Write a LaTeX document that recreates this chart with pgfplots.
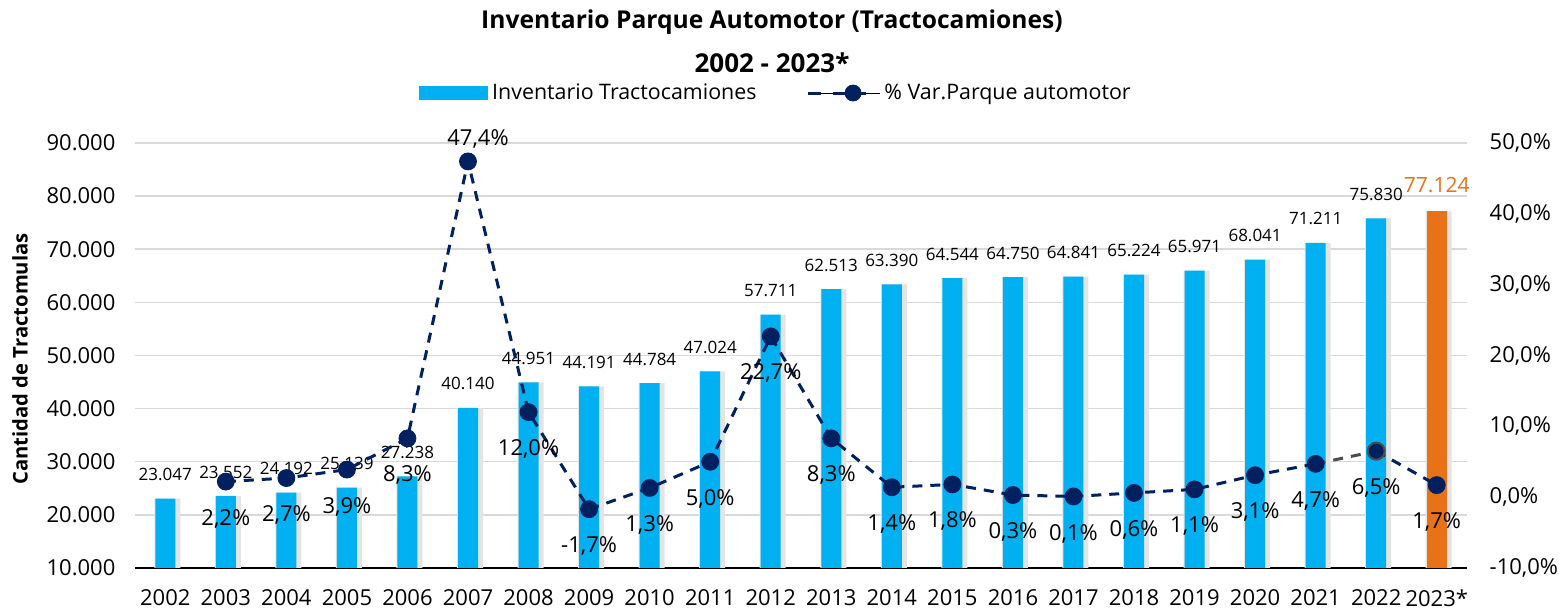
\documentclass[border=0pt]{standalone}
\usepackage{pgfplots}
\pgfplotsset{compat=1.18}
\usepackage{fontspec}
\setmainfont{Open Sans}
\definecolor{barblue}{HTML}{00B0F0}
\definecolor{barorange}{HTML}{E97118}
\definecolor{navy}{HTML}{002060}
\definecolor{gridgray}{HTML}{D9D9D9}
\definecolor{shadowgray}{HTML}{E4E4E4}
\pgfplotsset{/pgf/number format/assume math mode=true}
\begin{document}
\begin{tikzpicture}
\path[use as bounding box] (0,0) rectangle (779.5pt,304.5pt);
\node[font=\bfseries\fontsize{12.3}{14}\selectfont] at (386pt,293.5pt) {Inventario Parque Automotor (Tractocamiones)};
\node[font=\bfseries\fontsize{13}{15}\selectfont] at (386pt,273pt) {2002 - 2023*};
\node[rotate=90, font=\bfseries\fontsize{10.1}{12}\selectfont] at (10pt,125pt) {Cantidad de Tractomulas};

\begin{axis}[
  at={(67.5pt,20.5pt)}, anchor=south west,
  scale only axis, width=666pt, height=212.5pt,
  xmin=-0.5, xmax=21.5, ymin=10000, ymax=90000,
  axis x line*=bottom, axis y line*=left,
  x axis line style={black, line width=1.25pt, -},
  y axis line style={draw=none},
  xtick={0,...,21},
  xticklabels={2002,2003,2004,2005,2006,2007,2008,2009,2010,2011,2012,2013,2014,2015,2016,2017,2018,2019,2020,2021,2022,2023*},
  ytick={10000,20000,...,90000},
  scaled y ticks=false,
  ymajorgrids, grid style={gridgray, line width=0.75pt},
  major tick length=0pt,
  tick label style={font=\fontsize{11}{13}\selectfont},
  yticklabel style={xshift=-6.3pt, /pgf/number format/1000 sep={.}},
  xticklabel style={yshift=-7.4pt},
  every node near coord/.append style={font=\fontsize{8.5}{10}\selectfont, anchor=center, yshift=12pt},
  nodes near coords={\pgfmathprintnumber[1000 sep={.}]{\pgfplotspointmeta}},
]
\addplot[ybar, bar width=13pt, bar shift=1pt, fill=shadowgray, draw=none, nodes near coords={}] coordinates {
(0,23047)(1,23552)(2,24192)(3,25139)(4,27238)(5,40140)(6,44951)(7,44191)(8,44784)(9,47024)(10,57711)
(11,62513)(12,63390)(13,64544)(14,64750)(15,64841)(16,65224)(17,65971)(18,68041)(19,71211)(20,75830)(21,77124)};
\addplot[ybar, bar width=10pt, bar shift=0pt, fill=barblue, draw=none] coordinates {
(0,23047)(1,23552)(2,24192)(3,25139)(4,27238)(5,40140)(6,44951)(7,44191)(8,44784)(9,47024)(10,57711)
(11,62513)(12,63390)(13,64544)(14,64750)(15,64841)(16,65224)(17,65971)(18,68041)(19,71211)(20,75830)};
\addplot[ybar, bar width=10pt, bar shift=0pt, fill=barorange, draw=none,
  every node near coord/.append style={font=\fontsize{10.5}{12}\selectfont, text=barorange, yshift=1pt}] coordinates {(21,77124)};
\end{axis}

\begin{axis}[
  at={(67.5pt,20.5pt)}, anchor=south west,
  scale only axis, width=666pt, height=212.5pt,
  xmin=-0.5, xmax=21.5, ymin=-10, ymax=50,
  axis y line*=right, axis x line=none,
  y axis line style={draw=none},
  ytick={-10,0,10,20,30,40,50},
  yticklabel={\pgfmathprintnumber[fixed,fixed zerofill,precision=1,use comma]{\tick}\%},
  major tick length=0pt,
  tick label style={font=\fontsize{11}{13}\selectfont},
  yticklabel style={xshift=7.8pt},
  clip=false,
  legend columns=2,
  legend style={draw=none, fill=none, at={(0.2132,1.1176)}, anchor=west, inner sep=0pt,
    font=\fontsize{10.7}{12}\selectfont,
    /tikz/every even column/.append style={column sep=23pt}},
  legend cell align=left,
]
\addlegendimage{legend image code/.code={\fill[barblue] (0pt,-3.25pt) rectangle (34pt,3.25pt);}}
\addlegendentry{Inventario Tractocamiones}
\addlegendimage{legend image code/.code={%
  \path (0pt,0pt) -- (36pt,0pt);
  \draw[navy, line width=1.5pt] (0pt,0pt) -- (6.5pt,0pt);
  \draw[navy, line width=1.5pt] (12.5pt,0pt) -- (29pt,0pt);
  \fill[navy] (22.5pt,0pt) circle (4pt);}}
\addlegendentry{\% Var.Parque automotor}
% line segments
\addplot[navy, line width=1.5pt, dash pattern=on 5pt off 4pt, forget plot] coordinates {
(1,2.2)(2,2.7)(3,3.9)(4,8.3)(5,47.4)(6,12.0)(7,-1.7)(8,1.3)(9,5.0)(10,22.7)(11,8.3)(12,1.4)(13,1.8)(14,0.3)(15,0.1)(16,0.6)(17,1.1)(18,3.1)(19,4.7)};
\addplot[black!70, line width=1.5pt, dash pattern=on 5pt off 4pt, forget plot] coordinates {(19,4.7)(20,6.5)};
\addplot[navy, line width=1.5pt, dash pattern=on 5pt off 4pt, forget plot] coordinates {(20,6.5)(21,1.7)};
% markers
\addplot[only marks, mark=*, mark size=4.25pt, mark options={fill=navy, draw=navy}, forget plot,
  nodes near coords={\pgfmathprintnumber[fixed,fixed zerofill,precision=1,use comma]{\pgfplotspointmeta}\%},
  every node near coord/.append style={font=\fontsize{11}{12}\selectfont, anchor=center, yshift=-18.5pt}] coordinates {
(1,2.2)(2,2.7)(3,3.9)(4,8.3)(6,12.0)(7,-1.7)(8,1.3)(9,5.0)(10,22.7)(11,8.3)(12,1.4)(13,1.8)(14,0.3)(15,0.1)(16,0.6)(17,1.1)(18,3.1)(19,4.7)(21,1.7)};
\addplot[only marks, mark=*, mark size=4.25pt, mark options={fill=navy, draw=black!70, line width=1pt}, forget plot,
  nodes near coords={\pgfmathprintnumber[fixed,fixed zerofill,precision=1,use comma]{\pgfplotspointmeta}\%},
  every node near coord/.append style={font=\fontsize{11}{12}\selectfont, anchor=center, yshift=-18.5pt}] coordinates {(20,6.5)};
\addplot[only marks, mark=*, mark size=4.25pt, mark options={fill=navy, draw=navy}, forget plot,
  nodes near coords={\pgfmathprintnumber[fixed,fixed zerofill,precision=1,use comma]{\pgfplotspointmeta}\%},
  every node near coord/.append style={font=\fontsize{11}{12}\selectfont, anchor=center, yshift=11pt, xshift=5pt}] coordinates {(5,47.4)};
\end{axis}
\end{tikzpicture}
\end{document}
